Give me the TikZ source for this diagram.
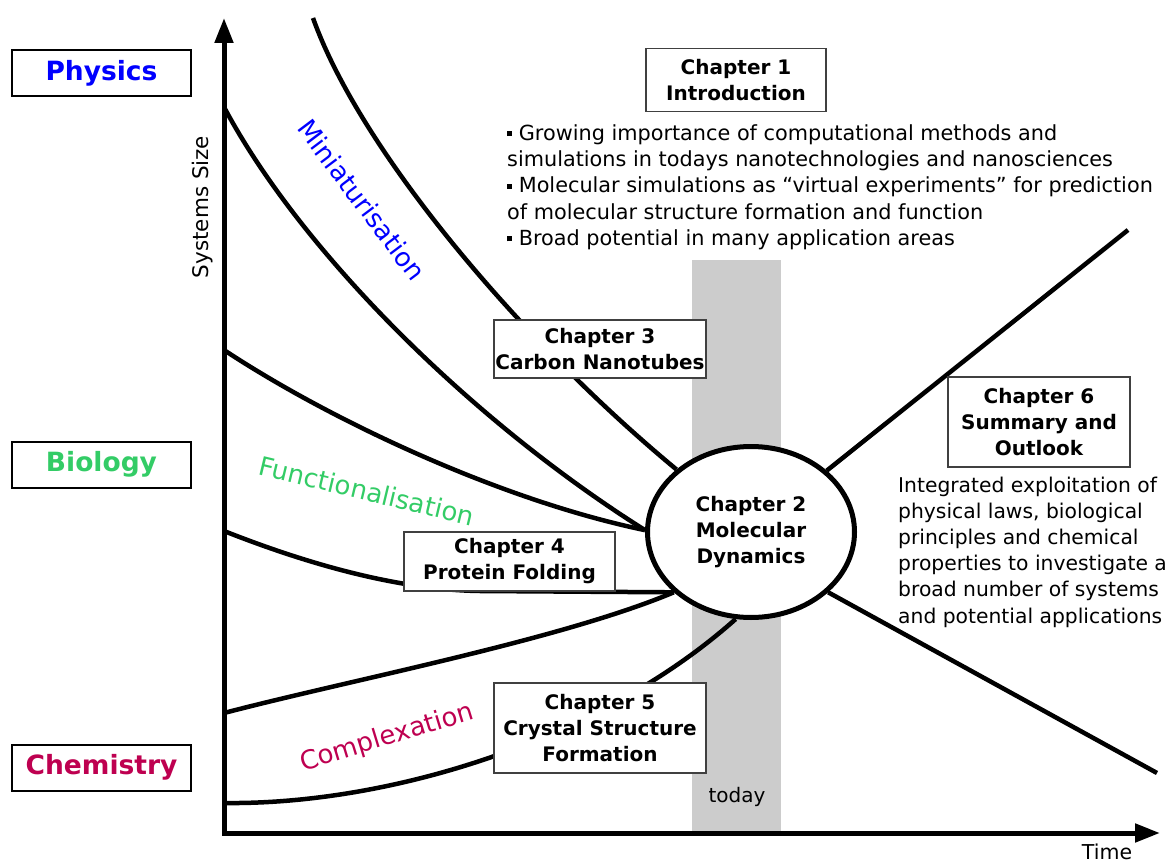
\documentclass[tikz,border=0pt]{standalone}
\usepackage{fontspec}
\setmainfont{DejaVu Sans}
\usetikzlibrary{arrows.meta,shapes.geometric}

\definecolor{physblue}{RGB}{0,0,255}
\definecolor{biogreen}{RGB}{51,204,102}
\definecolor{chemred}{RGB}{190,0,80}
\definecolor{todaygray}{RGB}{204,204,204}
\newcommand{\sqbullet}{\rule[4pt]{5pt}{5pt}\ }

\begin{document}
\begin{tikzpicture}[x=1pt,y=-1pt,
  axis/.style={line width=5pt,line cap=rect,-{Triangle[length=25pt,width=18pt]}},
  curve/.style={line width=4.5pt},
  chapbox/.style={draw=black!75,line width=1.2pt,fill=white,inner sep=0pt,align=center,
    font=\fontsize{20}{26}\selectfont\bfseries},
  fieldbox/.style={draw,line width=2pt,fill=white,inner sep=0pt,minimum width=179pt,minimum height=46pt,
    font=\fontsize{26.5}{30}\selectfont\bfseries},
  trend/.style={font=\fontsize{26}{30}\selectfont},
  plain/.style={inner sep=0pt,align=left,font=\fontsize{20.8}{26.3}\selectfont}]
  \useasboundingbox (0,0) rectangle (1171,864);

  % today band
  \fill[todaygray] (692,260) rectangle (781,833);
  \node[font=\fontsize{20}{24}\selectfont] (today) at (737,797) {today};

  % axes
  \coordinate (o) at (224,833);
  \coordinate (ytop) at (224,18);
  \coordinate (xend) at (1160,833);
  \draw[axis] (o) -- (ytop);
  \draw[axis] (o) -- (xend);
  \node[rotate=90,font=\fontsize{21.5}{24}\selectfont] (ysize) at (203,207) {Systems Size};
  \node[font=\fontsize{20.5}{24}\selectfont] (time) at (1107,852) {Time};

  % molecular dynamics
  \node[draw,ellipse,line width=5pt,fill=white,inner sep=0pt,minimum width=207pt,minimum height=171pt,
    align=center,font=\fontsize{20}{26}\selectfont\bfseries] (md) at (751,532)
    {Chapter 2\\Molecular\\Dynamics};

  % trends into today
  \coordinate (c1) at (313,18);
  \coordinate (c2) at (224,107);
  \coordinate (c3) at (224,350);
  \coordinate (c4) at (224,531);
  \coordinate (c5) at (224,713);
  \coordinate (c6) at (224,803);
  \coordinate (r1) at (1128,230);
  \coordinate (r2) at (1157,773);

  \draw[curve] (c1) .. controls (360,150) and (520,340) .. (md.140);
  \draw[curve] (c2) .. controls (300,250) and (470,420) .. (md.179);
  \draw[curve] (c3) .. controls (330,420) and (500,500) .. (md.179);
  \draw[curve] (c4) .. controls (310,565) and (400,590) .. (480,591) -- (md.218);
  \draw[curve] (c5) .. controls (350,680) and (560,640) .. (md.218);
  \draw[curve] (c6) .. controls (390,805) and (600,740) .. (md.260);
  \draw[curve] (md.39) -- (r1);
  \draw[curve] (md.-38) -- (r2);

  \node[trend,text=physblue,rotate=-53] (mini) at (362,200) {Miniaturisation};
  \node[trend,text=biogreen,rotate=-13.5] (func) at (367,491) {Functionalisation};
  \node[trend,text=chemred,rotate=17] (comp) at (387,738) {Complexation};

  % fields
  \node[fieldbox,text=physblue] (phys) at (101.5,73) {Physics};
  \node[fieldbox,text=biogreen] (bio) at (101.5,464.5) {Biology};
  \node[fieldbox,text=chemred] (chem) at (101.5,767.5) {Chemistry};

  % chapters
  \node[chapbox,minimum width=180pt,minimum height=63pt] (ch1) at (736,80) {Chapter 1\\Introduction};
  \node[chapbox,minimum width=212pt,minimum height=58pt] (ch3) at (600,349) {Chapter 3\\Carbon Nanotubes};
  \node[chapbox,minimum width=211pt,minimum height=59pt] (ch4) at (509.5,561.5) {Chapter 4\\Protein Folding};
  \node[chapbox,minimum width=212pt,minimum height=90pt] (ch5) at (600,728) {Chapter 5\\Crystal Structure\\Formation};
  \node[chapbox,minimum width=182pt,minimum height=90pt] (ch6) at (1039,422) {Chapter 6\\Summary and\\Outlook};

  \node[plain,anchor=west] (intro) at (507,187)
    {\sqbullet Growing importance of computational methods and\\
     simulations in todays nanotechnologies and nanosciences\\
     \sqbullet Molecular simulations as “virtual experiments” for prediction\\
     of molecular structure formation and function\\
     \sqbullet Broad potential in many application areas};
  \node[plain,anchor=west,font=\fontsize{20.3}{26.2}\selectfont] (outlook) at (898,552)
    {Integrated exploitation of\\
     physical laws, biological\\
     principles and chemical\\
     properties to investigate a\\
     broad number of systems\\
     and potential applications};
\end{tikzpicture}
\end{document}
